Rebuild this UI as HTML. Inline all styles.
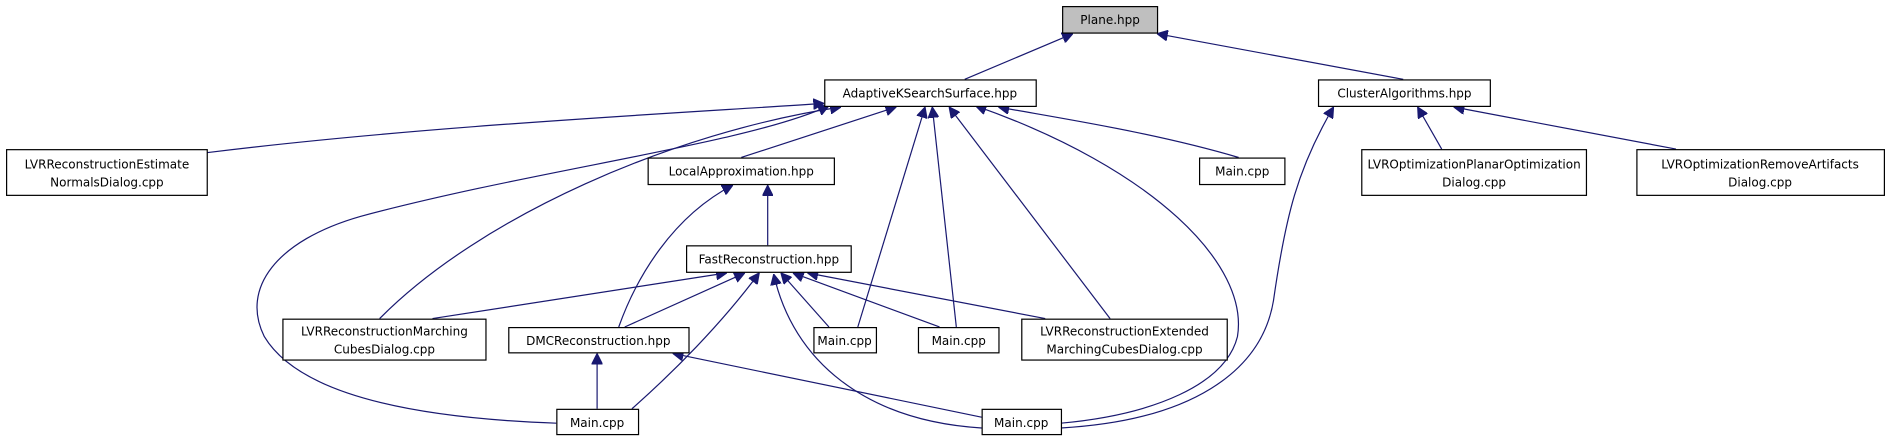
<!DOCTYPE html>
<html><head><meta charset="utf-8"><style>
html,body{margin:0;padding:0;background:#fff;}
svg{display:block}
text{font-family:"DejaVu Sans","Liberation Sans",sans-serif;font-size:10px;fill:#000}
</style></head><body>
<svg width="1885" height="440" viewBox="0 0 1569 366" preserveAspectRatio="none" xmlns="http://www.w3.org/2000/svg">
<defs>
<marker id="a" viewBox="0 0 10 10" refX="10" refY="5" markerWidth="9" markerHeight="9" markerUnits="userSpaceOnUse" orient="auto">
<path d="M0,0 L10,5 L0,10 z" fill="#191970" stroke="#191970"/>
</marker>
</defs>
<g fill="none" stroke="#191970" stroke-width="1" marker-end="url(#a)">
<path d="M803,66 L893,28"/>
<path d="M1168,66 L963,28"/>
<path d="M172,127 C350,105 550,95 686,86"/>
<path d="M617,131 L746,89"/>
<path d="M1031,131 C960,110 880,98 831,89"/>
<path d="M316,265 C400,180 560,110 700,89"/>
<path d="M463,352 C350,348 250,330 220,280 C200,240 230,200 300,180 C450,140 620,120 690,88"/>
<path d="M714,272 L770,89"/>
<path d="M796,272 L776,89"/>
<path d="M924,265 L790,89"/>
<path d="M883,352 C960,345 1020,320 1030,280 C1040,220 960,140 812,88"/>
<path d="M1200,124 L1180,89"/>
<path d="M1395,124 L1210,89"/>
<path d="M883,356 C990,350 1050,310 1060,250 C1070,180 1080,140 1110,89"/>
<path d="M639,204 L639,154"/>
<path d="M515,272 C530,230 560,180 610,154"/>
<path d="M360,265 L605,227"/>
<path d="M520,272 L620,227"/>
<path d="M526,340 C560,310 600,270 632,227"/>
<path d="M690,272 L650,227"/>
<path d="M782,272 L660,227"/>
<path d="M870,265 L672,227"/>
<path d="M817,356 C720,350 660,300 644,228"/>
<path d="M497,340 L497,294"/>
<path d="M817,347 L560,294"/>
</g>
<g stroke="#000" stroke-width="1" fill="#fff">
<rect x="884.5" y="5.5" width="79" height="22" fill="#bfbfbf"/>
<rect x="686.5" y="66.5" width="176" height="22"/>
<rect x="1097.5" y="66.5" width="143" height="22"/>
<rect x="5.5" y="124.5" width="167" height="38"/>
<rect x="539.5" y="131.5" width="155" height="22"/>
<rect x="998.5" y="131.5" width="71" height="22"/>
<rect x="1133.5" y="124.5" width="187" height="38"/>
<rect x="1362.5" y="124.5" width="206" height="38"/>
<rect x="571.5" y="204.5" width="137" height="22"/>
<rect x="235.5" y="265.5" width="169" height="34"/>
<rect x="423.5" y="272.5" width="150" height="21"/>
<rect x="677.5" y="272.5" width="52" height="21"/>
<rect x="764.5" y="272.5" width="67" height="21"/>
<rect x="850.5" y="265.5" width="171" height="34"/>
<rect x="463.5" y="340.5" width="68" height="21"/>
<rect x="817.5" y="340.5" width="66" height="21"/>
</g>
<g text-anchor="middle">
<text x="924" y="20">Plane.hpp</text>
<text x="774" y="81">AdaptiveKSearchSurface.hpp</text>
<text x="1169" y="81">ClusterAlgorithms.hpp</text>
<text x="89" y="140">LVRReconstructionEstimate</text>
<text x="89" y="155">NormalsDialog.cpp</text>
<text x="617" y="146">LocalApproximation.hpp</text>
<text x="1034" y="146">Main.cpp</text>
<text x="1227" y="140">LVROptimizationPlanarOptimization</text>
<text x="1227" y="155">Dialog.cpp</text>
<text x="1465" y="140">LVROptimizationRemoveArtifacts</text>
<text x="1465" y="155">Dialog.cpp</text>
<text x="640" y="219">FastReconstruction.hpp</text>
<text x="320" y="279">LVRReconstructionMarching</text>
<text x="320" y="294">CubesDialog.cpp</text>
<text x="498" y="287">DMCReconstruction.hpp</text>
<text x="703" y="287">Main.cpp</text>
<text x="798" y="287">Main.cpp</text>
<text x="936" y="279">LVRReconstructionExtended</text>
<text x="936" y="294">MarchingCubesDialog.cpp</text>
<text x="497" y="355">Main.cpp</text>
<text x="850" y="355">Main.cpp</text>
</g>
</svg>
</body></html>
